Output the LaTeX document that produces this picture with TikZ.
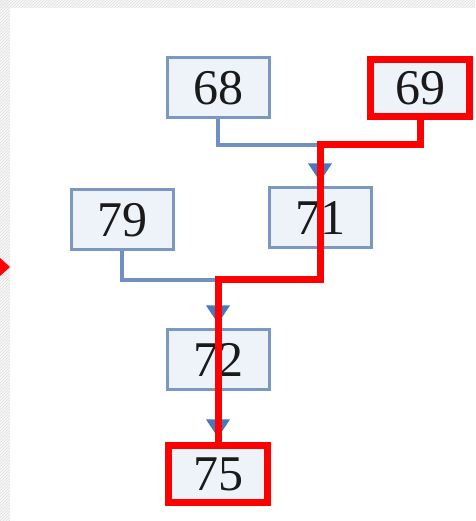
\documentclass[tikz,border=0pt]{standalone}
\usepackage{fontspec}
\setmainfont{Liberation Serif}
\usetikzlibrary{arrows.meta,calc,patterns}
\definecolor{cBox}{HTML}{EEF3FA}
\definecolor{cEdge}{HTML}{7B98C4}
\definecolor{cLink}{HTML}{7090C2}
\definecolor{cTip}{HTML}{4A78BE}
\definecolor{cMark}{HTML}{FF0000}
\definecolor{cInk}{HTML}{1A1A1A}
\tikzset{
  box/.style={draw=cEdge, fill=cBox, line width=3pt, minimum width=102pt,
              minimum height=60pt, inner sep=0pt, text=cInk,
              font=\fontsize{50}{50}\selectfont},
  link/.style={draw=cLink, line width=3.5pt},
  flow/.style={link, -{Triangle[length=18pt,width=23pt,color=cTip]}, shorten >=5pt},
  hl/.style={draw=cMark, line width=7pt},
}

\begin{document}
\begin{tikzpicture}[x=1pt,y=1pt]
\useasboundingbox (0,0) rectangle (475,521);

% ------------------------------------------------------------ page edge
\fill[gray!6] (0,0) rectangle (10,521);
\fill[gray!6] (0,513) rectangle (475,521);
\fill[pattern=north east lines, pattern color=gray!25] (0,0) rectangle (10,521);
\fill[pattern=north east lines, pattern color=gray!25] (0,513) rectangle (475,521);
\fill[cMark] (0,245) -- (10,254) -- (0,263) -- cycle;

% ------------------------------------------------------------ boxes
\node[box] (n68) at (218,433) {68};
\node[box] (n69) at (420,433) {69};
\node[box] (n79) at (122,301) {79};
\node[box] (n71) at (320,303) {71};
\node[box] (n72) at (218,161) {72};
\node[box] (n75) at (218,47)  {75};

\coordinate (j1) at (320,376);
\coordinate (j2) at (218,241);

% ------------------------------------------------------------ connectors
\draw[link] (n68.south) |- (j1);
\draw[link] (n69.south) |- (j1);
\draw[flow] (j1) -- (n71.north);
\draw[link] (n79.south) |- (j2);
\draw[link] (n71.south) |- (j2);
\draw[flow] (j2) -- (n72.north);
\draw[flow] (n72.south) -- (n75.north);

% ------------------------------------------------------------ marked route
\draw[hl] (n69.south) |- (j1) |- (j2) -- (n75.north);
\draw[hl] ($(n69.south west)+(3,3)$) rectangle ($(n69.north east)+(-3,-3)$);
\draw[hl] ($(n75.south west)+(3,3)$) rectangle ($(n75.north east)+(-3,-3)$);

\end{tikzpicture}
\end{document}
